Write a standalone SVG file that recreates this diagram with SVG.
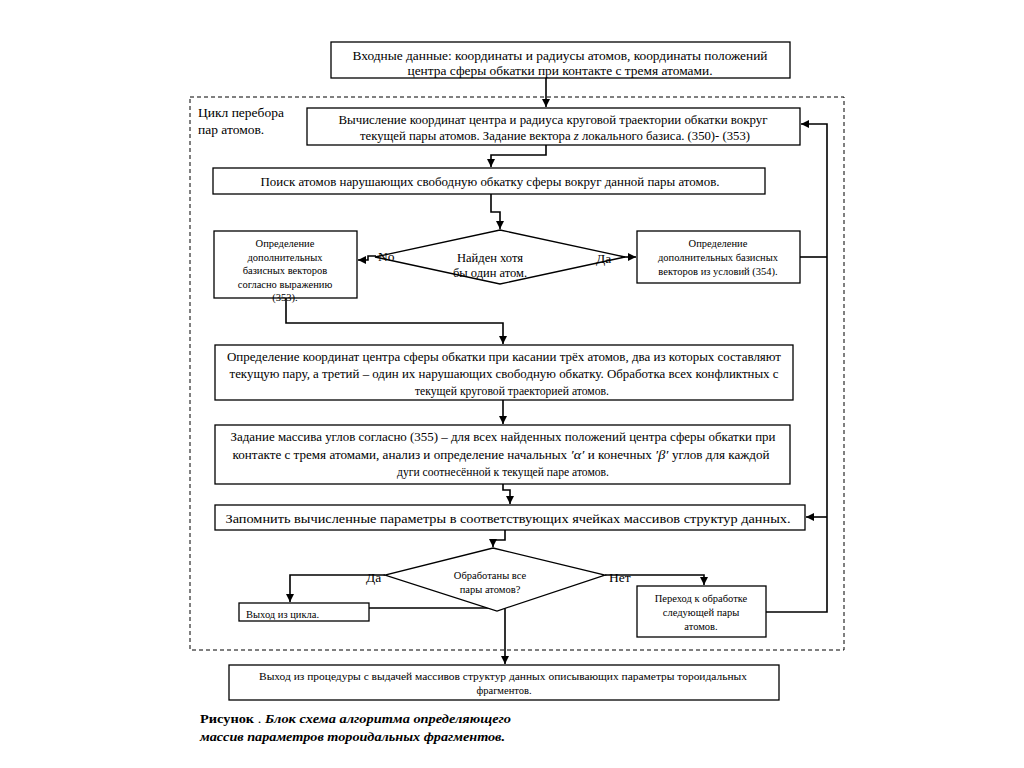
<svg xmlns="http://www.w3.org/2000/svg" width="1024" height="768" viewBox="0 0 1024 768">
<defs>
<marker id="ah" markerWidth="8" markerHeight="8" refX="8" refY="4" orient="auto" markerUnits="userSpaceOnUse"><path d="M0,0 L8,4 L0,8 z" fill="#000"/></marker>
<style>
.b{fill:#fff;stroke:#000;stroke-width:1.3}
.t{font-family:'Liberation Serif','DejaVu Serif',serif;fill:#000;font-size:12px}
.s{font-size:10.5px}
.c{text-anchor:middle}
.k{fill:none;stroke:#000;stroke-width:1.6;marker-end:url(#ah)}
.n{fill:none;stroke:#000;stroke-width:1.6}
</style>
</defs>
<rect width="1024" height="768" fill="#fff"/>
<g id="cycle">
<rect x="190" y="97" width="654" height="553" fill="none" stroke="#000" stroke-width="1" stroke-dasharray="4 3"/>
<text class="t" x="198" y="117" style="font-size:13.5px">Цикл перебора</text>
<text class="t" x="198" y="134" style="font-size:13.5px">пар атомов.</text>
</g>
<g id="connectors">
<path class="k" d="M546,78 V107"/>
<path class="k" d="M546,145 V155 H491 V167"/>
<path class="k" d="M491,194 V212 H500 V229"/>
<path class="k" d="M376,256 H368 V260 H358"/>
<path class="k" d="M614,257 H636"/>
<path class="n" d="M800,257 H827"/>
<path class="k" d="M766,612 H827 V124 H801"/>
<path class="k" d="M827,517 H806"/>
<path class="k" d="M286,298 V323 H503 V344"/>
<path class="k" d="M503,400 V424"/>
<path class="k" d="M503,484 V490 H510 V504"/>
<path class="k" d="M505,530 V540 H493 V547"/>
<path class="k" d="M385,575 H290 V602"/>
<path class="k" d="M605,575 H704 V585"/>
<path class="k" d="M369,608 H505 V664"/>
</g>
<g id="input">
<rect class="b" x="331" y="42" width="459" height="36"/>
<text class="t c" x="560" y="60" textLength="415" lengthAdjust="spacingAndGlyphs">Входные данные: координаты и радиусы атомов, координаты положений</text>
<text class="t c" x="560" y="75" textLength="305" lengthAdjust="spacingAndGlyphs">центра сферы обкатки при контакте с тремя атомами.</text>
</g>
<g id="calc">
<rect class="b" x="307" y="108" width="493" height="37"/>
<text class="t c" x="553" y="124" textLength="429" lengthAdjust="spacingAndGlyphs">Вычисление координат центра и радиуса круговой траектории обкатки вокруг</text>
<text class="t c" x="555" y="140" textLength="390" lengthAdjust="spacingAndGlyphs">текущей пары атомов. Задание вектора <tspan font-style="italic">z</tspan> локального базиса. (350)- (353)</text>
</g>
<g id="search">
<rect class="b" x="213" y="168" width="552" height="26"/>
<text class="t c" x="490" y="186" textLength="459" lengthAdjust="spacingAndGlyphs">Поиск атомов нарушающих свободную обкатку сферы вокруг данной пары атомов.</text>
</g>
<g id="found">
<path class="b" d="M500,230 L625,257 L500,284 L375,257 Z"/>
<text class="t c" x="490" y="262" style="font-size:12.5px">Найден хотя</text>
<text class="t c" x="490" y="277" style="font-size:12.5px">бы один атом.</text>
<text class="t" x="378" y="261" style="font-size:13.5px">No</text>
<text class="t" x="596" y="263" style="font-size:13.5px">Да</text>
</g>
<g id="basisNo">
<rect class="b" x="214" y="231" width="143" height="67"/>
<text class="t s c" x="285" y="247">Определение</text>
<text class="t s c" x="285" y="261">дополнительных</text>
<text class="t s c" x="285" y="274">базисных векторов</text>
<text class="t s c" x="285" y="288">согласно выражению</text>
<text class="t s c" x="285" y="301">(353).</text>
</g>
<g id="basisYes">
<rect class="b" x="637" y="231" width="163" height="52"/>
<text class="t s c" x="718" y="247">Определение</text>
<text class="t s c" x="718" y="261">дополнительных базисных</text>
<text class="t s c" x="718" y="275">векторов из условий (354).</text>
</g>
<g id="touch">
<rect class="b" x="215" y="345" width="578" height="55"/>
<text class="t c" x="504" y="361" textLength="554" lengthAdjust="spacingAndGlyphs">Определение координат центра сферы обкатки при касании трёх атомов, два из которых составляют</text>
<text class="t c" x="504" y="378" textLength="549" lengthAdjust="spacingAndGlyphs">текущую пару, а третий – один их нарушающих свободную обкатку. Обработка всех конфликтных с</text>
<text class="t c" x="512" y="395" textLength="194" lengthAdjust="spacingAndGlyphs">текущей круговой траекторией атомов.</text>
</g>
<g id="angles">
<rect class="b" x="215" y="425" width="575" height="59"/>
<text class="t c" x="503" y="441" textLength="545" lengthAdjust="spacingAndGlyphs">Задание массива углов согласно (355) – для всех найденных положений центра сферы обкатки при</text>
<text class="t c" x="501" y="459" textLength="537" lengthAdjust="spacingAndGlyphs">контакте с тремя атомами, анализ и определение начальных<tspan font-style="italic" font-size="13"> ′α′ </tspan>и конечных <tspan font-style="italic" font-size="13"> ′β′ </tspan>углов для каждой</text>
<text class="t c" x="503" y="476" textLength="212" lengthAdjust="spacingAndGlyphs">дуги соотнесённой к текущей паре атомов.</text>
</g>
<g id="store">
<rect class="b" x="215" y="505" width="590" height="25"/>
<text class="t c" x="508" y="523" textLength="565" lengthAdjust="spacingAndGlyphs" style="font-size:13.5px">Запомнить вычисленные параметры в соответствующих ячейках массивов структур данных.</text>
</g>
<g id="done">
<path class="b" d="M493,548 L605,575 L497,611 L385,575 Z"/>
<text class="t s c" x="490" y="579">Обработаны все</text>
<text class="t s c" x="490" y="593">пары атомов?</text>
<text class="t" x="366" y="582" style="font-size:13.5px">Да</text>
<text class="t" x="609" y="582" style="font-size:13.5px">Нет</text>
</g>
<g id="exitLoop">
<rect class="b" x="239" y="603" width="130" height="18"/>
<text class="t s" x="246" y="618">Выход из цикла.</text>
</g>
<g id="next">
<rect class="b" x="637" y="586" width="129" height="51"/>
<text class="t s c" x="701" y="602">Переход к обработке</text>
<text class="t s c" x="701" y="616">следующей пары</text>
<text class="t s c" x="701" y="630">атомов.</text>
</g>
<g id="exit">
<rect class="b" x="229" y="665" width="550" height="35"/>
<text class="t s c" x="503" y="680" textLength="488" lengthAdjust="spacingAndGlyphs">Выход из процедуры с выдачей массивов структур данных описывающих параметры тороидальных</text>
<text class="t s c" x="504" y="694">фрагментов.</text>
</g>
<g id="caption">
<text class="t" x="200" y="723" style="font-size:12.5px" textLength="311" lengthAdjust="spacingAndGlyphs"><tspan font-weight="bold">Рисунок</tspan> . <tspan font-weight="bold" font-style="italic">Блок схема алгоритма определяющего</tspan></text>
<text class="t" x="200" y="741" style="font-size:12.5px" font-weight="bold" font-style="italic" textLength="305" lengthAdjust="spacingAndGlyphs">массив параметров тороидальных фрагментов.</text>
</g>
</svg>
